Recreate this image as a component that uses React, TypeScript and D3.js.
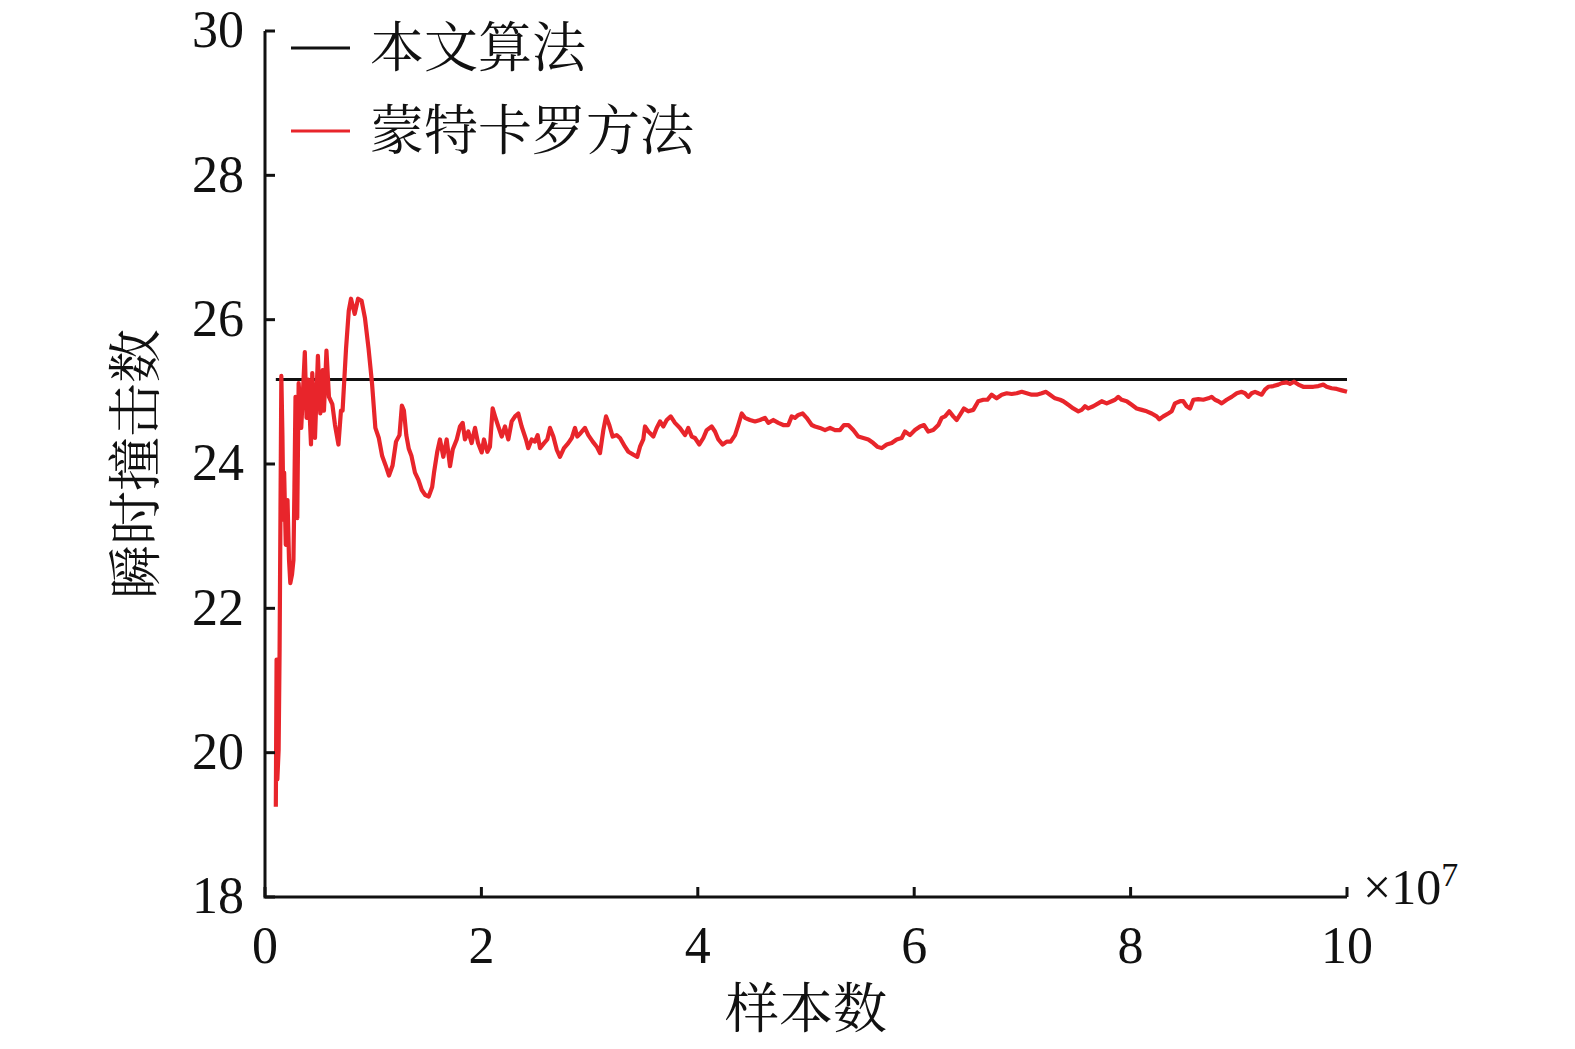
import * as d3 from "d3";

// x in units of 1e7 samples, y = instantaneous collision count
const MC_X = [
  0.1, 0.107, 0.114, 0.126, 0.135, 0.151, 0.161, 0.171, 0.177, 0.192, 0.208, 0.222, 0.234, 0.25, 0.263,
  0.272, 0.282, 0.298, 0.311, 0.335, 0.368, 0.384, 0.399, 0.425, 0.437, 0.462, 0.489, 0.511, 0.533, 0.545,
  0.568, 0.591, 0.622, 0.647, 0.679, 0.702, 0.717, 0.749, 0.774, 0.795, 0.829, 0.86, 0.893, 0.924, 0.957,
  0.989, 1.02, 1.052, 1.083, 1.115, 1.146, 1.179, 1.211, 1.243, 1.265, 1.284, 1.306, 1.329, 1.354, 1.386,
  1.418, 1.449, 1.481, 1.513, 1.545, 1.562, 1.592, 1.617, 1.648, 1.679, 1.71, 1.735, 1.772, 1.802, 1.827,
  1.848, 1.879, 1.91, 1.941, 1.969, 2.003, 2.024, 2.055, 2.079, 2.104, 2.126, 2.156, 2.188, 2.218, 2.249,
  2.28, 2.311, 2.341, 2.372, 2.412, 2.433, 2.465, 2.495, 2.52, 2.542, 2.579, 2.609, 2.634, 2.665, 2.696,
  2.726, 2.763, 2.803, 2.835, 2.865, 2.886, 2.918, 2.957, 2.988, 3.029, 3.066, 3.096, 3.127, 3.152, 3.182,
  3.213, 3.25, 3.281, 3.327, 3.358, 3.404, 3.441, 3.466, 3.496, 3.512, 3.543, 3.589, 3.62, 3.651, 3.681,
  3.713, 3.75, 3.789, 3.835, 3.882, 3.912, 3.944, 3.974, 4.014, 4.051, 4.082, 4.128, 4.159, 4.19, 4.23,
  4.267, 4.304, 4.344, 4.374, 4.406, 4.436, 4.482, 4.529, 4.575, 4.621, 4.652, 4.698, 4.744, 4.79, 4.836,
  4.868, 4.898, 4.929, 4.969, 5.006, 5.053, 5.083, 5.129, 5.176, 5.222, 5.268, 5.314, 5.351, 5.391, 5.437,
  5.483, 5.53, 5.576, 5.622, 5.659, 5.7, 5.746, 5.792, 5.838, 5.884, 5.915, 5.961, 6.007, 6.054, 6.091,
  6.13, 6.176, 6.223, 6.254, 6.285, 6.324, 6.361, 6.393, 6.423, 6.46, 6.5, 6.546, 6.592, 6.639, 6.676,
  6.716, 6.762, 6.809, 6.855, 6.901, 6.947, 6.994, 7.04, 7.086, 7.132, 7.178, 7.218, 7.255, 7.301, 7.348,
  7.378, 7.424, 7.47, 7.517, 7.548, 7.579, 7.609, 7.655, 7.701, 7.733, 7.779, 7.825, 7.856, 7.886, 7.918,
  7.964, 8.01, 8.056, 8.103, 8.149, 8.195, 8.241, 8.265, 8.302, 8.348, 8.38, 8.41, 8.457, 8.487, 8.518,
  8.549, 8.58, 8.626, 8.672, 8.718, 8.749, 8.78, 8.811, 8.842, 8.888, 8.934, 8.981, 9.027, 9.057, 9.088,
  9.119, 9.15, 9.18, 9.212, 9.242, 9.273, 9.319, 9.365, 9.397, 9.443, 9.473, 9.51, 9.55, 9.596, 9.642,
  9.689, 9.735, 9.781, 9.812, 9.858, 9.905, 9.951, 10.0,
];

const MC_Y = [
  19.25, 21.29, 19.63, 20.04, 21.43, 25.22, 24.4, 23.23, 23.88, 22.88, 23.5, 22.67, 22.35, 22.47, 22.67,
  23.68, 24.93, 23.25, 25.12, 24.5, 25.55, 24.64, 25.17, 24.27, 25.26, 24.36, 25.5, 24.7, 25.3, 24.74,
  25.57, 24.93, 24.83, 24.54, 24.27, 24.74, 24.74, 25.6, 26.12, 26.29, 26.08, 26.29, 26.26, 26.02, 25.6,
  25.12, 24.5, 24.36, 24.11, 23.98, 23.84, 23.98, 24.31, 24.4, 24.81, 24.74, 24.4, 24.21, 24.11, 23.88,
  23.78, 23.64, 23.57, 23.55, 23.68, 23.88, 24.17, 24.34, 24.1, 24.34, 23.97, 24.2, 24.34, 24.52, 24.57,
  24.34, 24.45, 24.29, 24.5, 24.29, 24.16, 24.34, 24.17, 24.24, 24.77, 24.66, 24.52, 24.38, 24.52, 24.34,
  24.59, 24.66, 24.7, 24.52, 24.34, 24.22, 24.34, 24.31, 24.4, 24.22, 24.29, 24.34, 24.5, 24.38, 24.2,
  24.1, 24.22, 24.29, 24.36, 24.5, 24.38, 24.43, 24.5, 24.4, 24.31, 24.24, 24.15, 24.47, 24.66, 24.54,
  24.38, 24.4, 24.36, 24.24, 24.17, 24.13, 24.1, 24.24, 24.34, 24.52, 24.45, 24.38, 24.5, 24.59, 24.52,
  24.61, 24.66, 24.57, 24.5, 24.4, 24.5, 24.38, 24.36, 24.27, 24.36, 24.47, 24.52, 24.45, 24.34, 24.27,
  24.31, 24.31, 24.4, 24.54, 24.7, 24.64, 24.61, 24.59, 24.61, 24.64, 24.57, 24.61, 24.57, 24.54, 24.54,
  24.66, 24.64, 24.68, 24.7, 24.64, 24.54, 24.52, 24.5, 24.47, 24.5, 24.47, 24.47, 24.54, 24.54, 24.47,
  24.38, 24.36, 24.34, 24.29, 24.24, 24.22, 24.27, 24.29, 24.34, 24.36, 24.45, 24.4, 24.47, 24.52, 24.54,
  24.45, 24.47, 24.54, 24.64, 24.66, 24.73, 24.66, 24.61, 24.68, 24.77, 24.73, 24.75, 24.87, 24.89, 24.89,
  24.96, 24.91, 24.96, 24.98, 24.97, 24.98, 25.0, 24.98, 24.96, 24.96, 24.98, 25.0, 24.96, 24.91, 24.89,
  24.87, 24.82, 24.77, 24.73, 24.75, 24.8, 24.77, 24.8, 24.84, 24.87, 24.84, 24.87, 24.89, 24.93, 24.89,
  24.87, 24.82, 24.77, 24.75, 24.73, 24.7, 24.66, 24.62, 24.66, 24.7, 24.73, 24.84, 24.87, 24.87, 24.8,
  24.77, 24.89, 24.9, 24.89, 24.91, 24.93, 24.89, 24.87, 24.84, 24.89, 24.93, 24.98, 25.0, 24.98, 24.93,
  24.98, 25.0, 24.98, 24.96, 25.03, 25.07, 25.08, 25.1, 25.12, 25.13, 25.11, 25.14, 25.1, 25.07, 25.07,
  25.07, 25.08, 25.1, 25.07, 25.05, 25.04, 25.02, 25.0,
];

const OURS_X = [0.1, 10];
const OURS_Y = [25.17, 25.17];

const X_TICKS = [0, 2, 4, 6, 8, 10];
const Y_TICKS = [18, 20, 22, 24, 26, 28, 30];

const LEGEND = ["本文算法", "蒙特卡罗方法"];
const COLORS = ["#111111", "#e8252b"];

const W = 1575;
const H = 1049;
const LEFT = 265;
const RIGHT = 1347;
const TOP = 31;
const BOTTOM = 897;

const SERIF = "'Liberation Serif', 'Times New Roman', serif";
const CJK = "'Noto Serif CJK SC', 'Noto Sans CJK SC', sans-serif";

export default function App() {
  const x = d3.scaleLinear().domain([0, 10]).range([LEFT, RIGHT]);
  const y = d3.scaleLinear().domain([18, 30]).range([BOTTOM, TOP]);

  const line = d3
    .line<number>()
    .x((_, i) => x(MC_X[i]))
    .y((d) => y(d));
  const oursLine = d3
    .line<number>()
    .x((_, i) => x(OURS_X[i]))
    .y((d) => y(d));

  return (
    <div>
      <style>{`body{margin:0}`}</style>
      <svg width={W} height={H} style={{ display: "block", background: "#fff" }}>
        {/* data */}
        <path d={oursLine(OURS_Y) || ""} fill="none" stroke={COLORS[0]} strokeWidth={3} />
        <path
          d={line(MC_Y) || ""}
          fill="none"
          stroke={COLORS[1]}
          strokeWidth={4.2}
          strokeLinejoin="round"
        />

        {/* axes */}
        <path
          d={`M${LEFT},${TOP}V${BOTTOM}H${RIGHT}`}
          fill="none"
          stroke="#111"
          strokeWidth={3}
        />
        {Y_TICKS.map((t) => (
          <g key={"y" + t}>
            <line x1={LEFT} x2={LEFT + 10} y1={y(t)} y2={y(t)} stroke="#111" strokeWidth={3} />
            <text
              x={LEFT - 21}
              y={y(t) - 2}
              dy="0.35em"
              textAnchor="end"
              fontFamily={SERIF}
              fontSize={52}
              fill="#111"
            >
              {t}
            </text>
          </g>
        ))}
        {X_TICKS.map((t) => (
          <g key={"x" + t}>
            <line x1={x(t)} x2={x(t)} y1={BOTTOM} y2={BOTTOM - 10} stroke="#111" strokeWidth={3} />
            <text
              x={x(t)}
              y={BOTTOM + 66}
              textAnchor="middle"
              fontFamily={SERIF}
              fontSize={52}
              fill="#111"
            >
              {t}
            </text>
          </g>
        ))}
        <text x={RIGHT + 16} y={BOTTOM + 7} fontFamily={SERIF} fontSize={50} fill="#111">
          ×10
          <tspan dy={-18} fontSize={34}>
            7
          </tspan>
        </text>

        {/* axis titles */}
        <text
          x={(LEFT + RIGHT) / 2}
          y={1028}
          textAnchor="middle"
          fontFamily={CJK}
          fontSize={54}
          fill="#111"
        >
          样本数
        </text>
        <text
          transform={`translate(${155},${(TOP + BOTTOM) / 2}) rotate(-90)`}
          textAnchor="middle"
          fontFamily={CJK}
          fontSize={54}
          fill="#111"
        >
          瞬时撞击数
        </text>

        {/* legend */}
        {LEGEND.map((name, i) => (
          <g key={name} transform={`translate(0,${48 + i * 83})`}>
            <line x1={291} x2={350} y1={0} y2={0} stroke={COLORS[i]} strokeWidth={2.8} />
            <text x={370} y={0} dy="0.36em" fontFamily={CJK} fontSize={54} fill="#111">
              {name}
            </text>
          </g>
        ))}
      </svg>
    </div>
  );
}
